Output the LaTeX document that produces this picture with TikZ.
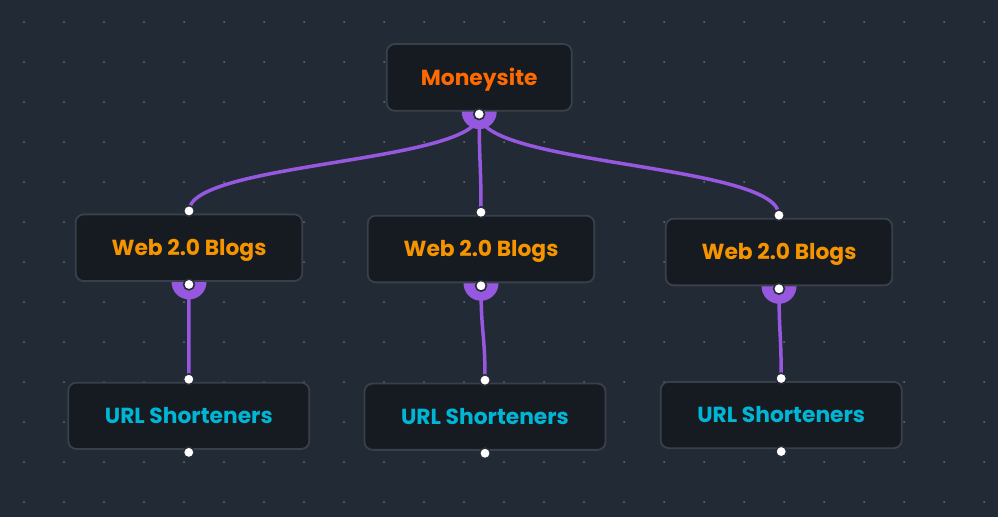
\documentclass[tikz,border=0pt]{standalone}
\usepackage{fontspec}
\setmainfont{Poppins}
\usetikzlibrary{calc}
\definecolor{bgc}{RGB}{34,42,54}
\definecolor{nodefill}{RGB}{22,27,34}
\definecolor{nodeborder}{RGB}{58,64,73}
\definecolor{edgec}{RGB}{150,88,222}
\definecolor{dotc}{RGB}{104,112,124}
\definecolor{moneyc}{RGB}{255,106,0}
\definecolor{blogc}{RGB}{246,148,0}
\definecolor{urlc}{RGB}{0,182,212}
\definecolor{handlering}{RGB}{40,46,56}
\pgfdeclarelayer{bg}
\pgfdeclarelayer{edges}
\pgfdeclarelayer{fg}
\pgfsetlayers{bg,edges,main,fg}
\tikzset{
  card/.style={draw=nodeborder, line width=1.8pt, fill=nodefill, rounded corners=8pt,
    inner sep=0pt, text height=15.6pt, text depth=0pt,
    font=\fontsize{21.8}{24}\selectfont\bfseries},
  moneybox/.style={card, minimum width=185pt, minimum height=66.7pt, text=moneyc},
  blogbox/.style={card, minimum width=226.6pt, minimum height=66.7pt, text=blogc},
  urlbox/.style={card, minimum width=241pt, minimum height=66.3pt, text=urlc},
  edge/.style={draw=edgec, line width=3.5pt},
  handle/.style={fill=white, draw=handlering, line width=1.6pt},
  halo/.style={fill=edgec},
}
\begin{document}
\begin{tikzpicture}[x=1pt,y=-1pt]
\begin{pgfonlayer}{bg}
\fill[bgc] (0,0) rectangle (998,517);
\foreach \i in {0,...,24}{
  \foreach \j in {0,...,12}{
    \fill[dotc] ({24+40*\i},{22+40*\j}) circle (1pt);
  }
}
\end{pgfonlayer}
\useasboundingbox (0,0) rectangle (998,517);

\node[moneybox] (m) at (479.2,77.4) {Moneysite};
\node[blogbox] (w1) at (189,247.7) {Web 2.0 Blogs};
\node[blogbox] (w2) at (481,249) {Web 2.0 Blogs};
\node[blogbox] (w3) at (779,252) {Web 2.0 Blogs};
\node[urlbox] (u1) at (188.8,415.8) {URL Shorteners};
\node[urlbox] (u2) at (485,416.7) {URL Shorteners};
\node[urlbox] (u3) at (781.2,415) {URL Shorteners};

\coordinate (m-b) at ([yshift=-2.5pt]m.south);
\foreach \n in {w1,w2,w3,u1,u2,u3}{
  \coordinate (\n-t) at ([yshift=2.5pt]\n.north);
  \coordinate (\n-b) at ([yshift=-2.5pt]\n.south);
}

\begin{pgfonlayer}{edges}
\foreach \n in {m,w1,w2,w3}{
  \fill[halo] (\n.south) circle (17.5pt);
}
\draw[edge] (m-b) .. controls +(0,49) and +(0,-49) .. (w1-t);
\draw[edge] (m-b) .. controls +(0,50) and +(0,-50) .. (w2-t);
\draw[edge] (m-b) .. controls +(0,51.5) and +(0,-51.5) .. (w3-t);
\draw[edge] (w1-b) .. controls +(0,48) and +(0,-48) .. (u1-t);
\draw[edge] (w2-b) .. controls +(0,48) and +(0,-48) .. (u2-t);
\draw[edge] (w3-b) .. controls +(0,45) and +(0,-45) .. (u3-t);
\end{pgfonlayer}

\begin{pgfonlayer}{fg}
\draw[handle] (m-b) circle (5.4pt);
\foreach \n in {w1,w2,w3,u1,u2,u3}{
  \draw[handle] (\n-t) circle (5.4pt);
  \draw[handle] (\n-b) circle (5.4pt);
}
\end{pgfonlayer}
\end{tikzpicture}
\end{document}
